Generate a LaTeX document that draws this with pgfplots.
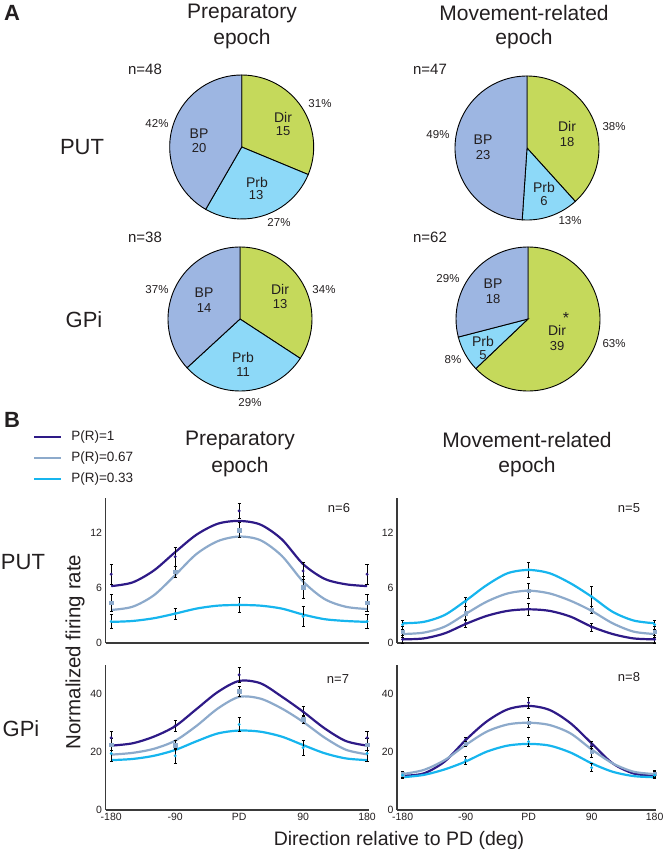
\documentclass[border=0pt]{standalone}
\usepackage{pgfplots}
\usepackage{pgfplotstable}
\pgfplotsset{compat=1.18}
\usepackage{fontspec}
\setmainfont{Liberation Sans}
\definecolor{cdark}{HTML}{2E1A87}
\definecolor{cgray}{HTML}{8DAACB}
\definecolor{ccyan}{HTML}{16B5EE}
\definecolor{dircol}{HTML}{C5D95B}
\definecolor{prbcol}{HTML}{8DD9F8}
\definecolor{bpcol}{HTML}{9DB6E2}
\definecolor{txt}{HTML}{231F20}
\definecolor{axgray}{HTML}{3A3A3A}
\newcommand{\fs}[1]{\fontsize{#1}{#1}\selectfont}
\newcommand{\lab}[4]{\node[font=\fs{#1}, text=txt, inner sep=0pt] at (#2pt,-#3pt) {#4};}

% ---------- curves (fitted tuning curves), x in deg ----------
\pgfplotstableread{
x d g c
-180 6.2 3.6 2.3
-150 6.6 3.95 2.4
-120 7.9 5.2 2.7
-90 9.9 7.4 3.2
-60 11.8 9.7 3.75
-30 13.0 11.1 4.07
0 13.3 11.6 4.14
30 12.9 11.2 4.07
60 11.3 9.5 3.75
90 8.6 6.7 3.1
120 7.0 4.8 2.6
150 6.4 3.95 2.4
180 6.2 3.7 2.3
}\TLc
\pgfplotstableread{
x d g c
-180 0.4 0.98 2.15
-150 0.5 1.13 2.3
-120 1.05 1.78 3.05
-90 2.07 3.16 4.6
-60 2.95 4.5 6.3
-30 3.5 5.4 7.6
0 3.67 5.7 7.96
30 3.5 5.4 7.6
60 2.87 4.6 6.5
90 1.78 3.5 5.05
120 0.98 2.15 3.4
150 0.5 1.24 2.45
180 0.4 0.98 2.15
}\TRc
\pgfplotstableread{
x d g c
-180 22.2 19.1 17.2
-150 23.0 19.7 17.6
-120 25.3 21.1 18.7
-90 28.9 23.9 20.7
-60 34.8 29.0 23.7
-30 40.7 35.0 26.4
0 44.5 39.0 27.4
30 43.7 38.4 27.0
60 39.1 35.0 25.3
90 33.9 30.4 22.4
120 28.2 25.0 19.6
150 23.8 20.8 17.8
180 22.2 19.2 17.2
}\BLc
\pgfplotstableread{
x d g c
-180 11.8 12.4 11.3
-150 12.6 13.8 12.1
-120 16.7 17.2 14.0
-90 24.1 22.4 16.7
-60 30.5 27.0 20.1
-30 34.7 29.5 22.2
0 35.9 30.1 22.8
30 34.5 29.3 22.2
60 29.9 26.4 19.8
90 23.0 20.9 16.1
120 16.1 16.1 13.2
150 12.6 13.2 11.7
180 11.8 12.4 11.3
}\BRc
% ---------- mean points with error bars ----------
\pgfplotstableread{
x d de g ge c ce
-180 7.5 1.1 4.4 0.9 2.35 0.8
-90 9.4 1.0 7.8 0.6 3.2 0.6
0 14.4 0.85 12.3 0.8 4.2 0.8
90 7.85 0.9 6.1 1.2 2.9 1.1
180 7.5 1.1 4.4 0.9 2.35 0.8
}\TLp
\pgfplotstableread{
x d de g ge c ce
-180 0.4 0.4 1.24 0.6 2.0 0.5
-90 2.15 0.4 3.24 0.8 4.5 0.5
0 3.7 0.65 5.67 0.8 8.0 0.8
90 1.7 0.4 3.6 0.4 5.05 1.1
180 0.4 0.4 1.24 0.6 2.0 0.5
}\TRp
\pgfplotstableread{
x d de g ge c ce
-180 24.9 2.3 22.6 2.0 19.5 2.6
-90 29.0 2.0 22.4 1.5 18.7 2.6
0 46.6 2.7 41.0 1.7 29.5 2.5
90 33.9 1.7 31.3 1.5 21.5 2.6
180 24.9 2.3 22.6 2.0 19.5 2.6
}\BLp
\pgfplotstableread{
x d de g ge c ce
-180 12.4 1.0 12.4 1.0 12.0 1.0
-90 24.4 0.8 22.8 1.0 17.2 1.3
0 37.0 2.0 30.1 1.7 23.6 1.6
90 22.4 1.2 20.1 2.0 14.6 1.4
180 12.4 1.0 12.6 1.0 12.0 1.0
}\BRp

\pgfplotsset{
  lineax/.style={scale only axis, height=145pt, ymin=0,
    axis lines=left, axis line style={-, line width=1.3pt, draw=axgray},
    major tick length=0pt, tick style={draw=none},
    xmin=-188, xmax=182, xtick={-180,-90,0,90,180},
    ticklabel style={font=\fs{10.5}, text=txt},
    /pgf/number format/assume math mode=true,
    clip=false},
  curve/.style={line width=2.2pt, smooth, no markers},
  pts/.style={only marks, forget plot,
    error bars/y dir=both, error bars/y explicit,
    error bars/error bar style={black, line width=0.6pt},
    error bars/error mark options={rotate=90, mark size=1.6pt, line width=0.6pt, black}},
  pieax/.style={hide axis, scale only axis, width=144pt, height=144pt,
    xmin=-1, xmax=1, ymin=-1, ymax=1, anchor=center, clip=false},
}

\newcommand{\pieat}[5]{%
  \pgfmathsetmacro{\tot}{#3+#4+#5}%
  \pgfmathsetmacro{\aA}{90-360*#3/\tot}%
  \pgfmathsetmacro{\aB}{\aA-360*#4/\tot}%
  \begin{axis}[pieax, at={(#1pt,-#2pt)}]
    \filldraw[fill=dircol,draw=black,line width=0.9pt] (axis cs:0,0) -- ++(90:72pt) arc[start angle=90,end angle=\aA,radius=72pt] -- cycle;
    \filldraw[fill=prbcol,draw=black,line width=0.9pt] (axis cs:0,0) -- ++(\aA:72pt) arc[start angle=\aA,end angle=\aB,radius=72pt] -- cycle;
    \filldraw[fill=bpcol,draw=black,line width=0.9pt] (axis cs:0,0) -- ++(\aB:72pt) arc[start angle=\aB,end angle=-270,radius=72pt] -- cycle;
  \end{axis}}

\newcommand{\ptsplot}[1]{%
  \addplot[pts, mark=*, mark size=1.3pt, color=cdark] table[x=x,y=d,y error=de] {#1};
  \addplot[pts, mark=square*, mark size=1.7pt, color=cgray] table[x=x,y=g,y error=ge] {#1};
  \addplot[pts, mark=*, mark size=1.3pt, color=ccyan] table[x=x,y=c,y error=ce] {#1};}

\begin{document}
\begin{tikzpicture}
\path[use as bounding box] (0,0) rectangle (666pt,-853pt);

% ================= Panel A =================
\node[font=\fs{22}\bfseries, text=txt, inner sep=0pt] at (12pt,-13pt) {A};
\lab{21}{242}{13}{Preparatory}
\lab{21}{242}{39}{epoch}
\lab{21}{524}{13}{Movement-related}
\lab{21}{524}{39}{epoch}
\lab{22}{82}{147}{PUT}
\lab{22}{84}{320}{GPi}

\pieat{241.7}{147}{15}{13}{20}
\pieat{527}{148}{18}{6}{23}
\pieat{240}{319}{13}{11}{14}
\pieat{528}{319}{39}{5}{18}

% pie 1
\lab{15}{145}{69}{n=48}
\lab{11.5}{157}{124}{42\%}
\lab{11.5}{320}{104}{31\%}
\lab{11.5}{279}{223}{27\%}
\lab{14}{283}{117}{Dir}\lab{13}{283}{131}{15}
\lab{14}{199}{134}{BP}\lab{13}{199}{148}{20}
\lab{14}{257}{182}{Prb}\lab{13}{256}{195}{13}
% pie 2
\lab{15}{430}{69}{n=47}
\lab{11.5}{438}{135}{49\%}
\lab{11.5}{614}{127}{38\%}
\lab{11.5}{570}{221}{13\%}
\lab{14}{567}{126}{Dir}\lab{13}{567}{142}{18}
\lab{14}{483}{140}{BP}\lab{13}{483}{155}{23}
\lab{14}{544}{187}{Prb}\lab{13}{544}{201}{6}
% pie 3
\lab{15}{145}{237}{n=38}
\lab{11.5}{157}{290}{37\%}
\lab{11.5}{324}{290}{34\%}
\lab{11.5}{250}{403}{29\%}
\lab{14}{280}{289}{Dir}\lab{13}{280}{304}{13}
\lab{14}{204}{293}{BP}\lab{13}{204}{308}{14}
\lab{14}{243}{357}{Prb}\lab{13}{243}{372}{11}
% pie 4
\lab{15}{430}{237}{n=62}
\lab{11.5}{448}{279}{29\%}
\lab{11.5}{453}{360}{8\%}
\lab{11.5}{614}{344}{63\%}
\lab{14}{493}{284}{BP}\lab{13}{493}{299}{18}
\lab{14}{483}{341}{Prb}\lab{13}{483}{355}{5}
\lab{16}{566}{318}{*}
\lab{14}{557}{330}{Dir}\lab{13}{557}{346}{39}

% ================= Panel B =================
\node[font=\fs{22}\bfseries, text=txt, inner sep=0pt] at (12pt,-420pt) {B};
\lab{21}{240}{440}{Preparatory}
\lab{21}{240}{467}{epoch}
\lab{21}{527}{440}{Movement-related}
\lab{21}{527}{467}{epoch}
\lab{22}{23}{562}{PUT}
\lab{22}{21}{729}{GPi}

% PUT preparatory
\begin{axis}[lineax, width=263pt, at={(105.5pt,-643pt)}, anchor=south west,
  ymax=15.8, ytick={0,6,12}, xtick=\empty,
  legend style={at={(-0.276,1.475)}, anchor=north west, draw=none, fill=none,
    font=\fs{13.5}, text=txt, row sep=6pt, column sep=8pt, inner sep=0pt,
    nodes={inner sep=1pt, text height=10pt, text depth=3pt}},
  legend cell align=left,
  legend image code/.code={\draw[#1] (0pt,0pt) -- (27pt,0pt);}]
\addplot[curve, cdark] table[x=x,y=d] {\TLc};
\addlegendentry{P(R)=1}
\addplot[curve, cgray] table[x=x,y=g] {\TLc};
\addlegendentry{P(R)=0.67}
\addplot[curve, ccyan] table[x=x,y=c] {\TLc};
\addlegendentry{P(R)=0.33}
\ptsplot{\TLp}
\end{axis}

% PUT movement
\begin{axis}[lineax, width=259pt, at={(397pt,-643pt)}, anchor=south west,
  ymax=15.8, ytick={0,6,12}, xtick=\empty]
\addplot[curve, cdark] table[x=x,y=d] {\TRc};
\addplot[curve, cgray] table[x=x,y=g] {\TRc};
\addplot[curve, ccyan] table[x=x,y=c] {\TRc};
\ptsplot{\TRp}
\end{axis}

% GPi preparatory
\begin{axis}[lineax, width=263pt, at={(105.5pt,-810pt)}, anchor=south west,
  ymax=50, ytick={0,20,40}, xticklabels={-180,-90,PD,90,180}]
\addplot[curve, cdark] table[x=x,y=d] {\BLc};
\addplot[curve, cgray] table[x=x,y=g] {\BLc};
\addplot[curve, ccyan] table[x=x,y=c] {\BLc};
\ptsplot{\BLp}
\end{axis}

% GPi movement
\begin{axis}[lineax, width=259pt, at={(397pt,-810pt)}, anchor=south west,
  ymax=50, ytick={0,20,40}, xticklabels={-180,-90,PD,90,180}]
\addplot[curve, cdark] table[x=x,y=d] {\BRc};
\addplot[curve, cgray] table[x=x,y=g] {\BRc};
\addplot[curve, ccyan] table[x=x,y=c] {\BRc};
\ptsplot{\BRp}
\end{axis}

\lab{13}{339}{508}{n=6}
\lab{13}{629}{508}{n=5}
\lab{13}{338}{679}{n=7}
\lab{13}{629}{677}{n=8}

\node[font=\fs{20.5}, text=txt, inner sep=0pt, rotate=90] at (75pt,-652pt) {Normalized firing rate};
\node[font=\fs{19.5}, text=txt, inner sep=0pt] at (399pt,-840pt) {Direction relative to PD (deg)};
\end{tikzpicture}
\end{document}
